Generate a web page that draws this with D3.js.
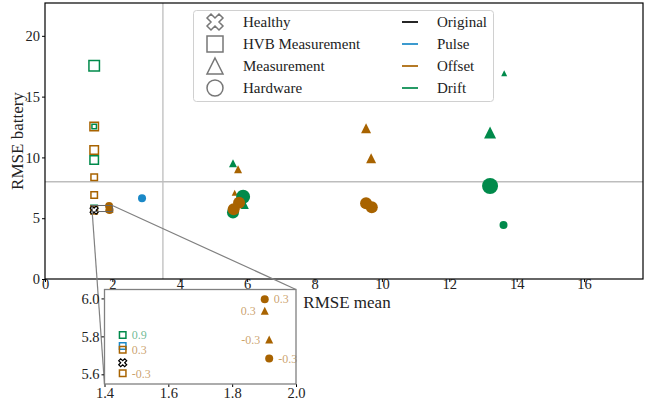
<!DOCTYPE html>
<html>
<head>
<meta charset="utf-8">
<script src="https://cdn.jsdelivr.net/npm/d3@7"></script>
<style>
  body { margin: 0; background: #fff; }
  text { font-family: "Liberation Serif", "DejaVu Serif", serif; }
</style>
</head>
<body>
<div id="container"></div>
<script>
// fault families (marker) and injected signal kinds (colour)
const faults = ["healthy", "hvb", "meas", "hw"];
const faultLabels = ["Healthy", "HVB Measurement", "Measurement", "Hardware"];
const kinds = ["original", "pulse", "offset", "drift"];
const kindLabels = ["Original", "Pulse", "Offset", "Drift"];

const xTicks = [0, 2, 4, 6, 8, 10, 12, 14, 16];
const yTicks = [0, 5, 10, 15, 20];
const insetXTicks = [1.4, 1.6, 1.8, 2.0];
const insetYTicks = [5.6, 5.8, 6.0];

// thresholds drawn as grey reference lines
const meanThreshold = 3.5;
const batteryThreshold = 8;

// [kind, RMSE mean, RMSE battery, level, annotation]
const healthyPoints = [
  ["original", 1.457, 5.661, 2]
];
const hvbPoints = [
  ["drift", 1.46, 17.53, 4],
  ["offset", 1.46, 12.55, 3],
  ["drift", 1.46, 12.55, 1],
  ["offset", 1.46, 10.62, 3],
  ["drift", 1.46, 9.79, 3],
  ["offset", 1.46, 8.37, 2],
  ["offset", 1.46, 6.91, 2],
  ["drift", 1.457, 5.807, 2, "0.9"],
  ["pulse", 1.457, 5.749, 2],
  ["offset", 1.457, 5.73, 2, "0.3"],
  ["offset", 1.457, 5.605, 2, "-0.3"]
];
const measPoints = [
  ["drift", 5.58, 9.52, 2],
  ["offset", 5.73, 9.03, 2],
  ["offset", 5.63, 7.10, 1],
  ["drift", 5.93, 6.09, 2],
  ["offset", 9.53, 12.40, 3],
  ["offset", 9.68, 9.93, 3],
  ["drift", 13.21, 12.04, 4],
  ["drift", 13.63, 16.93, 1],
  ["offset", 1.902, 5.935, 2, "0.3"],
  ["offset", 1.916, 5.784, 2, "-0.3"]
];
const hwPoints = [
  ["pulse", 2.88, 6.64, 2],
  ["drift", 5.88, 6.77, 5],
  ["drift", 5.58, 5.46, 4],
  ["drift", 13.21, 7.65, 6],
  ["drift", 13.61, 4.44, 2],
  ["offset", 5.76, 6.28, 4],
  ["offset", 5.60, 5.74, 4],
  ["offset", 9.53, 6.23, 4],
  ["offset", 9.70, 5.90, 4],
  ["offset", 1.902, 5.996, 2, "0.3"],
  ["offset", 1.916, 5.684, 2, "-0.3"]
];

const COLORS = {
  original: "#000000",
  pulse: "#1a88c7",
  offset: "#a86300",
  drift: "#008a4b"
};
const GREY = "#808080";

const width = 650, height = 405;
const margin = {left: 45, top: 3, right: 7, bottom: 126};

const svg = d3.select("#container")
  .append("svg")
  .attr("width", width)
  .attr("height", height);

const x = d3.scaleLinear().domain([0, 17.75]).range([margin.left, width - margin.right]);
const y = d3.scaleLinear().domain([0, 22.7]).range([height - margin.bottom, margin.top]);
const size = d3.scaleLinear().domain([1, 6]).range([6, 16]);

// marker path centred on 0,0 with overall width s
function markerPath(fault, s) {
  const h = s / 2;
  if (fault == "hvb") return `M${-h},${-h}H${h}V${h}H${-h}Z`;
  if (fault == "meas") return `M0,${-h}L${h},${h}L${-h},${h}Z`;
  if (fault == "hw") return `M${-h},0A${h},${h} 0 1,0 ${h},0A${h},${h} 0 1,0 ${-h},0Z`;
  // filled X: a plus rotated by 45 degrees
  const a = s / 1.886, w = a / 3;
  const pts = [[-w,-a],[w,-a],[w,-w],[a,-w],[a,w],[w,w],[w,a],[-w,a],[-w,w],[-a,w],[-a,-w],[-w,-w]];
  const c = Math.SQRT1_2;
  return "M" + pts.map(([px, py]) => `${(px - py) * c},${(px + py) * c}`).join("L") + "Z";
}

const toPoint = fault => d => ({fault: fault, kind: d[0], x: d[1], y: d[2], level: d[3], label: d[4]});
const allPoints = [
  ...hvbPoints.map(toPoint("hvb")),
  ...measPoints.map(toPoint("meas")),
  ...hwPoints.filter(d => d[0] == "pulse").map(toPoint("hw")),
  ...hwPoints.filter(d => d[0] == "drift").map(toPoint("hw")),
  ...hwPoints.filter(d => d[0] == "offset").map(toPoint("hw")),
  ...healthyPoints.map(toPoint("healthy"))
];

function drawMarkers(g, xs, ys) {
  g.selectAll(".pt")
    .data(allPoints)
    .join("path")
    .attr("class", "pt")
    .attr("transform", d => `translate(${xs(d.x)},${ys(d.y)})`)
    .attr("d", d => markerPath(d.fault, size(d.level) - (d.fault == "hvb" ? 1.5 : 0)))
    .attr("fill", d => d.fault == "hvb" ? "none" : d.fault == "healthy" ? "#fff" : COLORS[d.kind])
    .attr("stroke", d => d.fault == "hvb" || d.fault == "healthy" ? COLORS[d.kind] : "none")
    .attr("stroke-width", d => d.fault == "healthy" ? 1.2 : 1.5);
}

function styleTicks(g, fs) {
  g.select(".domain").remove();
  g.selectAll("text").attr("font-size", fs).attr("fill", "#222");
}

// ---- main axes ----
const plotBottom = y(0);
const plotTop = y.range()[1];

svg.append("g")
  .attr("transform", `translate(0,${plotBottom})`)
  .call(d3.axisBottom(x).tickValues(xTicks).tickSize(3).tickPadding(0).tickFormat(d3.format("d")))
  .call(g => styleTicks(g, "14.5px"))
  .call(g => g.selectAll("text").attr("dy", "0.5em"));

svg.append("g")
  .attr("transform", `translate(${margin.left},0)`)
  .call(d3.axisLeft(y).tickValues(yTicks).tickSize(3).tickPadding(2).tickFormat(d3.format("d")))
  .call(g => styleTicks(g, "14.5px"));

svg.append("line")
  .attr("x1", x(meanThreshold)).attr("x2", x(meanThreshold))
  .attr("y1", plotTop).attr("y2", plotBottom)
  .attr("stroke", "#bdbdbd").attr("stroke-width", 1.3);
svg.append("line")
  .attr("x1", x.range()[0]).attr("x2", x.range()[1])
  .attr("y1", y(batteryThreshold)).attr("y2", y(batteryThreshold))
  .attr("stroke", "#bdbdbd").attr("stroke-width", 1.3);

svg.append("defs").append("clipPath").attr("id", "mainClip")
  .append("rect")
  .attr("x", x.range()[0]).attr("y", plotTop)
  .attr("width", x.range()[1] - x.range()[0]).attr("height", plotBottom - plotTop);

drawMarkers(svg.append("g").attr("clip-path", "url(#mainClip)"), x, y);

svg.append("rect")
  .attr("x", x.range()[0]).attr("y", plotTop)
  .attr("width", x.range()[1] - x.range()[0]).attr("height", plotBottom - plotTop)
  .attr("fill", "none").attr("stroke", "#000").attr("stroke-width", 1.2);

svg.append("text")
  .attr("x", 347).attr("y", 308)
  .attr("text-anchor", "middle")
  .attr("font-size", "17px").attr("fill", "#222")
  .text("RMSE mean");

svg.append("text")
  .attr("transform", `translate(23,${(plotTop + plotBottom) / 2}) rotate(-90)`)
  .attr("text-anchor", "middle")
  .attr("font-size", "17px").attr("fill", "#222")
  .text("RMSE battery");

// ---- legend ----
const legend = svg.append("g");
legend.append("rect")
  .attr("x", 193.5).attr("y", 10.5).attr("width", 300).attr("height", 91)
  .attr("rx", 3)
  .attr("fill", "#fff").attr("fill-opacity", 0.85)
  .attr("stroke", "#d0d0d0");

const rowY = d3.scaleLinear().domain([0, 3]).range([22, 88]);

legend.selectAll(".lm")
  .data(faults)
  .join("path")
  .attr("transform", (d, i) => `translate(215,${rowY(i)})`)
  .attr("d", d => markerPath(d, 16))
  .attr("fill", "#fff")
  .attr("stroke", "#777")
  .attr("stroke-width", 1.5);

legend.selectAll(".lt")
  .data(faultLabels)
  .join("text")
  .attr("x", 243).attr("y", (d, i) => rowY(i))
  .attr("dy", "0.33em")
  .attr("font-size", "15px").attr("fill", "#222")
  .text(d => d);

legend.selectAll(".ll")
  .data(kinds)
  .join("line")
  .attr("x1", 402).attr("x2", 418)
  .attr("y1", (d, i) => rowY(i)).attr("y2", (d, i) => rowY(i))
  .attr("stroke", d => COLORS[d])
  .attr("stroke-width", 2)
  .attr("stroke-opacity", 0.85);

legend.selectAll(".lk")
  .data(kindLabels)
  .join("text")
  .attr("x", 437).attr("y", (d, i) => rowY(i))
  .attr("dy", "0.33em")
  .attr("font-size", "15px").attr("fill", "#222")
  .text(d => d);

// ---- zoomed inset ----
const ix = d3.scaleLinear().domain([1.4, 2.0]).range([104.5, 296]);
const iy = d3.scaleLinear().domain([5.549, 6.047]).range([384, 289.5]);

// indicator box and connectors
svg.append("rect")
  .attr("x", x(1.4)).attr("y", y(6.047))
  .attr("width", x(2.0) - x(1.4)).attr("height", y(5.549) - y(6.047))
  .attr("fill", "none").attr("stroke", "#666").attr("stroke-width", 1);
svg.append("line")
  .attr("x1", x(2.0)).attr("y1", y(6.047))
  .attr("x2", ix(2.0)).attr("y2", iy(6.047))
  .attr("stroke", GREY).attr("stroke-width", 1.2);
svg.append("line")
  .attr("x1", x(1.4)).attr("y1", y(5.549))
  .attr("x2", ix(1.4)).attr("y2", iy(5.549))
  .attr("stroke", GREY).attr("stroke-width", 1.2);

const inset = svg.append("g");
inset.append("rect")
  .attr("x", ix.range()[0]).attr("y", iy.range()[1])
  .attr("width", ix.range()[1] - ix.range()[0]).attr("height", iy.range()[0] - iy.range()[1])
  .attr("fill", "#fff");

svg.select("defs").append("clipPath").attr("id", "insetClip")
  .append("rect")
  .attr("x", ix.range()[0]).attr("y", iy.range()[1])
  .attr("width", ix.range()[1] - ix.range()[0]).attr("height", iy.range()[0] - iy.range()[1]);

drawMarkers(inset.append("g").attr("clip-path", "url(#insetClip)"), ix, iy);

inset.selectAll(".ann")
  .data(allPoints.filter(d => d.label))
  .join("text")
  .attr("x", d => ix(d.x) + (d.fault == "meas" ? -9 : 9))
  .attr("y", d => iy(d.y))
  .attr("dy", "0.35em")
  .attr("text-anchor", d => d.fault == "meas" ? "end" : "start")
  .attr("font-size", "12px")
  .attr("fill", d => COLORS[d.kind])
  .attr("fill-opacity", 0.6)
  .text(d => d.label);

inset.append("g")
  .attr("transform", `translate(0,${iy.range()[0]})`)
  .call(d3.axisBottom(ix).tickValues(insetXTicks).tickSize(3).tickPadding(1).tickFormat(d3.format(".1f")))
  .call(g => styleTicks(g, "14.5px"));

inset.append("g")
  .attr("transform", `translate(${ix.range()[0]},0)`)
  .call(d3.axisLeft(iy).tickValues(insetYTicks).tickSize(3).tickPadding(2).tickFormat(d3.format(".1f")))
  .call(g => styleTicks(g, "14.5px"));

inset.append("rect")
  .attr("x", ix.range()[0]).attr("y", iy.range()[1])
  .attr("width", ix.range()[1] - ix.range()[0]).attr("height", iy.range()[0] - iy.range()[1])
  .attr("fill", "none").attr("stroke", GREY).attr("stroke-width", 1.3);
</script>
</body>
</html>
